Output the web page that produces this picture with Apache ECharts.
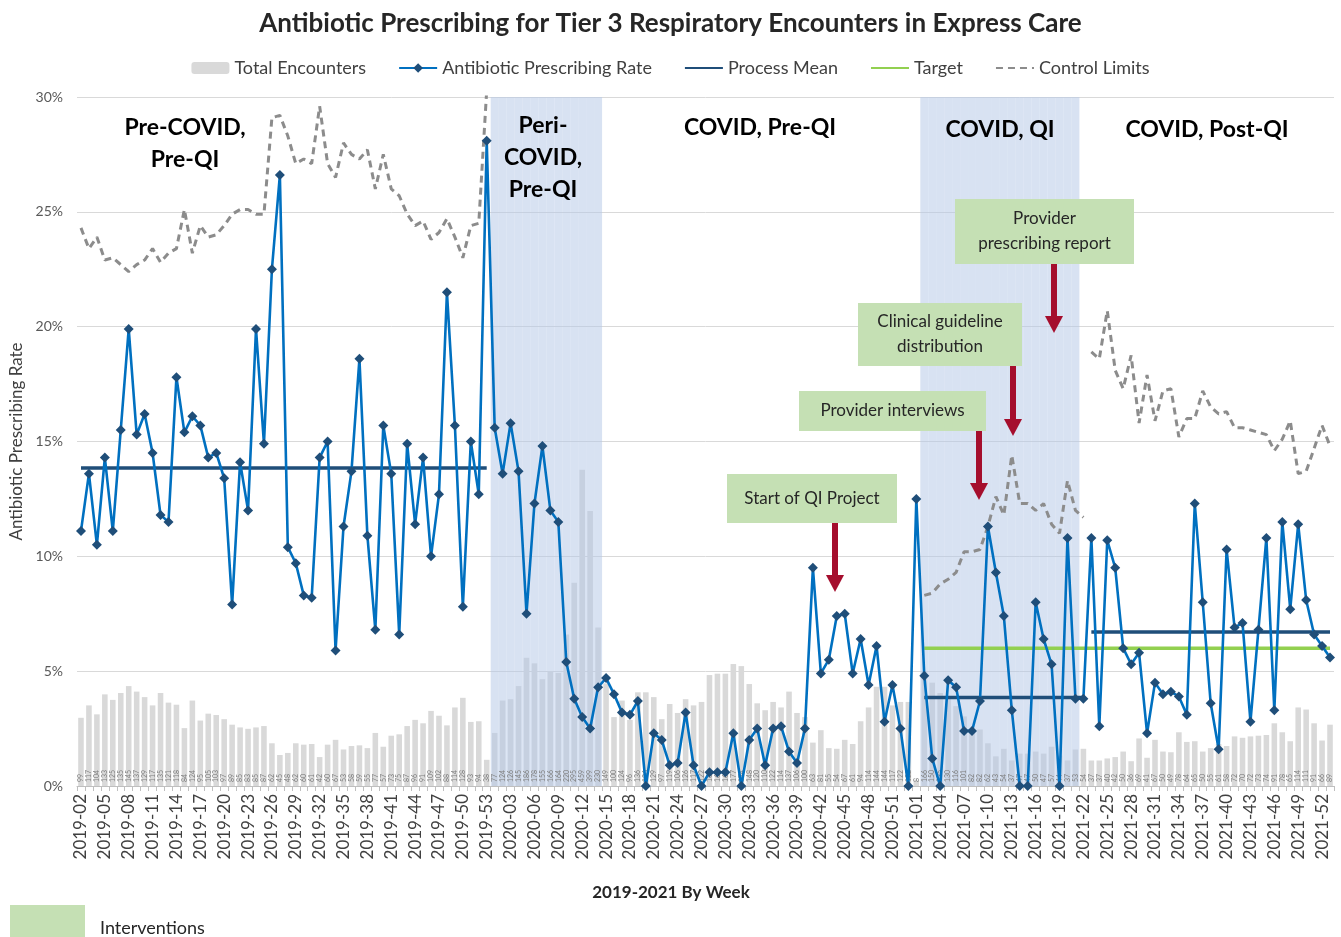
<!DOCTYPE html>
<html>
<head>
<meta charset="utf-8">
<script src="https://cdn.jsdelivr.net/npm/echarts@6/dist/echarts.min.js"></script>
<style>
  html, body { margin: 0; padding: 0; background: #fff; }
  #chart { width: 1341px; height: 937px; }
</style>
</head>
<body>
<div id="chart"></div>
<script>
// week categories 2019-02 ... 2021-53
const weeks = []
for (const [yr, first, last] of [[2019, 2, 53], [2020, 1, 53], [2021, 1, 53]]) {
  for (let w = first; w <= last; w++) weeks.push(yr + '-' + String(w).padStart(2, '0'))
}

const yTicks = [0, 5, 10, 15, 20, 25, 30]

// total encounters per week
const encounters = [
  99, 117, 104, 133, 125, 135, 145, 137, 129, 117, 135, 121, 118, 84, 124, 95, 105, 103, 97, 89, 85, 83, 85, 87, 62, 45,
  48, 62, 60, 61, 42, 60, 67, 53, 58, 59, 55, 77, 57, 73, 75, 87, 96, 91, 109, 102, 88, 114, 128, 93, 94, 38,
  77, 124, 126, 145, 186, 178, 155, 166, 164, 220, 295, 459, 399, 230,
  149, 100, 124, 96, 136, 136, 129, 97, 119, 106, 126, 117, 122,
  161, 163, 163, 177, 174, 148, 120, 110, 122, 114, 137, 106, 100, 63, 81, 55, 54, 67, 61, 94, 114, 144, 144, 117, 122, 122,
  8, 166, 150, 135, 130, 116, 101, 82, 82, 62, 43, 54, 37, 47, 47, 50, 47, 57, 44, 37, 53, 54, 37, 37, 40, 42,
  50, 36, 69, 41, 67, 50, 49, 78, 64, 65, 50, 55, 61, 58, 72, 70, 72, 73, 74, 91, 78, 65, 114, 111, 91, 66, 89
]

// antibiotic prescribing rate (%)
const rate = [
  11.1, 13.6, 10.5, 14.3, 11.1, 15.5, 19.9, 15.3, 16.2, 14.5,
  11.8, 11.5, 17.8, 15.4, 16.1, 15.7, 14.3, 14.5, 13.4, 7.9,
  14.1, 12.0, 19.9, 14.9, 22.5, 26.6, 10.4, 9.7, 8.3, 8.2,
  14.3, 15.0, 5.9, 11.3, 13.7, 18.6, 10.9, 6.8, 15.7, 13.6,
  6.6, 14.9, 11.4, 14.3, 10.0, 12.7, 21.5, 15.7, 7.8, 15.0,
  12.7, 28.1, 15.6, 13.6, 15.8, 13.7, 7.5, 12.3, 14.8, 12.0,
  11.5, 5.4, 3.8, 3.0, 2.5, 4.3, 4.7, 4.0, 3.2, 3.1,
  3.7, 0, 2.3, 2.0, 0.9, 1.0, 3.2, 0.9, 0, 0.6,
  0.6, 0.6, 2.3, 0, 2.0, 2.5, 0.9, 2.5, 2.6, 1.5,
  1.0, 2.5, 9.5, 4.9, 5.5, 7.4, 7.5, 4.9, 6.4, 4.4,
  6.1, 2.8, 4.4, 2.5, 0, 12.5, 4.8, 1.2, 0, 4.6,
  4.3, 2.4, 2.4, 3.7, 11.3, 9.3, 7.4, 3.3, 0, 0,
  8.0, 6.4, 5.3, 0, 10.8, 3.8, 3.8, 10.8, 2.6, 10.7,
  9.5, 6.0, 5.3, 5.8, 2.3, 4.5, 4.0, 4.1, 3.9, 3.1,
  12.3, 8.0, 3.6, 1.6, 10.3, 6.9, 7.1, 2.8, 6.8, 10.8,
  3.3, 11.5, 7.7, 11.4, 8.1, 6.6, 6.1, 5.6
]

// upper control limits per phase (%)
const uclPre = [
  24.3, 23.4, 23.9, 22.9, 23.0, 22.7, 22.4, 22.7, 22.9, 23.4,
  22.8, 23.2, 23.4, 25.1, 23.2, 24.4, 23.9, 24.0, 24.4, 24.9,
  25.1, 25.1, 24.9, 24.9, 29.1, 29.2, 28.3, 27.1, 27.3, 27.1,
  29.6, 27.1, 26.5, 28.0, 27.5, 27.3, 27.7, 26.0, 27.5, 26.0,
  25.7, 24.9, 24.4, 24.6, 23.8, 24.1, 24.7, 23.9, 23.0, 24.4,
  24.5, 30.3
]
const uclQI = [8.3, 8.4, 8.8, 9.0, 9.3, 10.2, 10.2, 10.3, 11.3, 12.6, 11.8, 14.4, 12.3, 12.3, 12.0, 12.3, 11.4, 11.0, 13.3, 12.0, 11.7]
const uclPost = [
  18.9, 18.6, 20.7, 18.1, 17.3, 18.75, 15.8, 17.9, 15.9, 17.2,
  17.3, 15.2, 16.0, 16.0, 17.2, 16.5, 16.2, 16.3, 15.6, 15.6,
  15.5, 15.4, 15.3, 14.6, 15.1, 15.9, 13.6, 13.7, 14.7, 15.7, 14.8
]

// phase means and target: [first week, last week, value]
const meanPre = ['2019-02', '2019-53', 13.85]
const meanQI = ['2021-02', '2021-22', 3.85]
const meanPost = ['2021-23', '2021-53', 6.7]
const target = ['2021-02', '2021-53', 6.0]

// shaded phases
const shaded = [['2020-01', '2020-14'], ['2021-02', '2021-21']]

const place = (startWeek, values) => {
  const out = weeks.map(() => '-')
  const s = weeks.indexOf(startWeek)
  values.forEach((v, k) => { out[s + k] = v })
  return out
}
const span = ([a, b, v]) => weeks.map((w, i) => (i >= weeks.indexOf(a) && i <= weeks.indexOf(b)) ? v : '-')
const merge = (p, q) => p.map((v, i) => v === '-' ? q[i] : v)

const shadeData = weeks.map((w, i) => shaded.some(([a, b]) => i >= weeks.indexOf(a) && i <= weeks.indexOf(b)) ? 30 : '-')

const FONT = 'Lato'
const chart = echarts.init(document.getElementById('chart'))

const boxes = [
  {x: 727, y: 474, w: 170, h: 49, lines: ['Start of QI Project'], ax: 835, ay: 523, tip: 592},
  {x: 799, y: 391, w: 187, h: 40, lines: ['Provider interviews'], ax: 979, ay: 431, tip: 500},
  {x: 858, y: 303, w: 164, h: 63, lines: ['Clinical guideline', 'distribution'], ax: 1013, ay: 366, tip: 436},
  {x: 955, y: 199, w: 179, h: 65, lines: ['Provider', 'prescribing report'], ax: 1054, ay: 264, tip: 333}
]
const graphics = []
boxes.forEach(b => {
  graphics.push({type: 'rect', shape: {x: b.x, y: b.y, width: b.w, height: b.h}, style: {fill: '#c5e0b4'}, z: 10})
  graphics.push({
    type: 'text', x: b.x + b.w / 2, y: b.y + b.h / 2, z: 11,
    style: {text: b.lines.join('\n'), font: '17px ' + FONT, fill: '#262626', align: 'center', verticalAlign: 'middle', lineHeight: 25}
  })
  graphics.push({type: 'rect', shape: {x: b.ax - 3, y: b.ay, width: 6, height: b.tip - b.ay - 16}, style: {fill: '#a50e2d'}, z: 10})
  graphics.push({type: 'polygon', shape: {points: [[b.ax - 9, b.tip - 17], [b.ax + 9, b.tip - 17], [b.ax, b.tip]]}, style: {fill: '#a50e2d'}, z: 10})
})
const phaseLabels = [
  {x: 185, y: 144, t: 'Pre-COVID,\nPre-QI'},
  {x: 543, y: 158, t: 'Peri-\nCOVID,\nPre-QI'},
  {x: 760, y: 128, t: 'COVID, Pre-QI'},
  {x: 1000, y: 130, t: 'COVID, QI'},
  {x: 1207, y: 130, t: 'COVID, Post-QI'}
]
phaseLabels.forEach(p => graphics.push({
  type: 'text', x: p.x, y: p.y, z: 11,
  style: {text: p.t, font: 'bold 23px ' + FONT, fill: '#000', align: 'center', verticalAlign: 'middle', lineHeight: 32}
}))
graphics.push({type: 'text', x: 671, y: 893, style: {text: '2019-2021 By Week', font: 'bold 17px ' + FONT, fill: '#262626', align: 'center', verticalAlign: 'middle'}})
graphics.push({type: 'rect', shape: {x: 10, y: 905, width: 75, height: 40}, style: {fill: '#c5e0b4'}})
graphics.push({type: 'text', x: 100, y: 928, style: {text: 'Interventions', font: '18px ' + FONT, fill: '#262626', verticalAlign: 'middle'}})

const lineBase = {type: 'line', showSymbol: false, symbol: 'none', silent: true, connectNulls: false}
const plainIcon = {opacity: 0}

chart.setOption({
  animation: false,
  textStyle: {fontFamily: FONT},
  title: {
    text: 'Antibiotic Prescribing for Tier 3 Respiratory Encounters in Express Care',
    left: 'center', top: 6,
    textStyle: {fontSize: 26, fontWeight: 'bold', color: '#262626', fontFamily: FONT}
  },
  legend: {
    top: 54, left: 'center', itemWidth: 38, itemHeight: 12, itemGap: 32,
    textStyle: {fontSize: 18, color: '#404040', fontFamily: FONT},
    data: [
      'Total Encounters',
      'Antibiotic Prescribing Rate',
      {name: 'Process Mean', itemStyle: plainIcon},
      {name: 'Target', itemStyle: plainIcon},
      {name: 'Control Limits', itemStyle: plainIcon}
    ]
  },
  grid: {left: 77, right: 7, top: 97, bottom: 151, outerBoundsMode: 'none', containLabel: false},
  xAxis: [
    {
      type: 'category', data: weeks, boundaryGap: true,
      axisLine: {lineStyle: {color: '#bfbfbf'}},
      axisTick: {show: true, interval: 0, length: 5, lineStyle: {color: '#bfbfbf'}},
      axisLabel: {interval: 2, rotate: 90, fontSize: 17, color: '#404040', margin: 8}
    },
    {type: 'category', data: weeks, show: false, boundaryGap: true}
  ],
  yAxis: [
    {
      type: 'value', min: 0, max: 30, interval: 5,
      axisLabel: {formatter: '{value}%', fontSize: 14, color: '#595959', margin: 14,
        customValues: yTicks},
      axisLine: {show: false}, axisTick: {show: false},
      splitLine: {lineStyle: {color: '#d9d9d9'}},
      name: 'Antibiotic Prescribing Rate', nameLocation: 'middle', nameGap: 52,
      nameTextStyle: {fontSize: 17, color: '#404040'}
    },
    {type: 'value', min: 0, max: 1000, show: false, splitLine: {show: false}}
  ],
  graphic: graphics,
  series: [
    {
      name: 'Total Encounters', type: 'bar', yAxisIndex: 1, data: encounters,
      barCategoryGap: '30%', itemStyle: {color: '#d9d9d9'},
      label: {show: true, position: 'insideBottom', rotate: 90, align: 'left', verticalAlign: 'middle',
        distance: 4, fontSize: 7, color: '#7f7f7f'}
    },
    {
      name: 'phase', type: 'bar', xAxisIndex: 1, yAxisIndex: 0, data: shadeData, barWidth: '100%',
      itemStyle: {color: 'rgba(180,199,231,0.52)'}, silent: true
    },
    {...lineBase, name: 'Process Mean', data: merge(span(meanPre), span(meanPost)), lineStyle: {color: '#1f4e79', width: 3.5}, itemStyle: {color: '#1f4e79'}},
    {...lineBase, name: 'Process Mean', data: span(meanQI), lineStyle: {color: '#1f4e79', width: 3.5}, itemStyle: {color: '#1f4e79'}},
    {...lineBase, name: 'Target', data: span(target), lineStyle: {color: '#92d050', width: 3.5}, itemStyle: {color: '#92d050'}},
    {...lineBase, name: 'Control Limits', data: merge(place('2019-02', uclPre), place('2021-23', uclPost)),
      lineStyle: {color: '#8c8c8c', width: 3, type: [7, 5]}, itemStyle: {color: '#8c8c8c'}},
    {...lineBase, name: 'Control Limits', data: place('2021-02', uclQI),
      lineStyle: {color: '#8c8c8c', width: 3, type: [7, 5]}, itemStyle: {color: '#8c8c8c'}},
    {
      name: 'Antibiotic Prescribing Rate', type: 'line', data: rate,
      symbol: 'diamond', symbolSize: 10, showAllSymbol: true,
      lineStyle: {color: '#0070c0', width: 2.6}, itemStyle: {color: '#1f4e79'}, z: 5
    }
  ]
})
</script>
</body>
</html>
